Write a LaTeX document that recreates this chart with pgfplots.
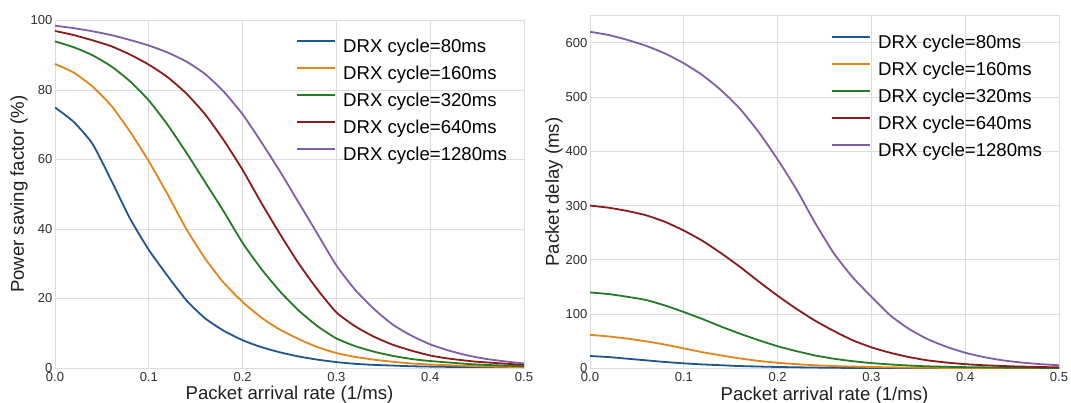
\documentclass[border=0pt]{standalone}
\usepackage{fontspec}
\setmainfont{Liberation Sans}
\usepackage{pgfplots}
\pgfplotsset{compat=1.18}
\definecolor{cblue}{HTML}{1F568C}
\definecolor{corange}{HTML}{E0861A}
\definecolor{cgreen}{HTML}{237B23}
\definecolor{cred}{HTML}{8B1A1A}
\definecolor{cpurple}{HTML}{7E5FA8}
\definecolor{gridc}{HTML}{DCDCDC}
\pgfplotsset{
  myaxis/.style={
    scale only axis,
    xmin=0, xmax=0.5,
    xtick={0,0.1,0.2,0.3,0.4,0.5},
    xticklabels={0.0,0.1,0.2,0.3,0.4,0.5},
    ymin=0,
    grid=major,
    grid style={gridc, line width=0.8bp},
    axis line style={gridc, line width=0.8bp},
    major tick length=0pt,
    tick label style={font=\fontsize{13bp}{15bp}\selectfont, text=black!82},
    /pgf/number format/assume math mode=true,
    xticklabel style={anchor=base, yshift=-13bp},
    yticklabel style={anchor=east, inner sep=0pt, xshift=-2.5bp},
    every axis x label/.style={at={(axis description cs:0.5,0)}, anchor=base, yshift=-31.5bp,
      font=\fontsize{18.6bp}{22bp}\selectfont, text=black!88},
    every axis y label/.style={at={([xshift=-36bp]axis description cs:0,0.5)}, rotate=90, anchor=center,
      font=\fontsize{18.6bp}{22bp}\selectfont, text=black!88},
    legend style={draw=none, fill=none, at={(1,1)}, anchor=north east, xshift=-10bp, yshift=-18.5bp,
      font=\fontsize{18.6bp}{22bp}\selectfont, inner sep=0pt, outer sep=0pt,
      nodes={inner xsep=7bp, inner ysep=0pt, text height=13.3bp, text depth=4bp},
      row sep=9.7bp, cells={anchor=west}},
    legend image code/.code={\draw[#1, line width=2bp] (-14bp,6.6bp) -- (24bp,6.6bp);},
    every axis plot/.append style={line width=1.8bp, smooth, tension=0.35},
  }
}
\begin{document}
\begin{tikzpicture}
\useasboundingbox (0,0) rectangle (1071bp,403bp);
\begin{axis}[myaxis,
  at={(55bp,35bp)}, anchor=south west,
  width=469bp, height=347.5bp,
  ymax=100, ytick={0,20,40,60,80,100},
  xlabel={Packet arrival rate (1/ms)},
  ylabel={Power saving factor (\%)},
]
\addplot[cblue] coordinates {(0,75)(0.02,70.8)(0.04,64.5)(0.06,54)(0.08,43)(0.1,34)(0.12,26.5)(0.14,19.5)(0.16,14.3)(0.18,10.7)(0.2,8)(0.22,6)(0.24,4.5)(0.26,3.3)(0.28,2.4)(0.3,1.7)(0.32,1.2)(0.34,0.9)(0.36,0.7)(0.38,0.5)(0.4,0.4)(0.45,0.2)(0.5,0.1)};
\addlegendentry{DRX cycle=80ms}
\addplot[corange] coordinates {(0,87.5)(0.02,85)(0.04,81)(0.06,75.5)(0.08,68)(0.1,59.5)(0.12,50)(0.14,40)(0.16,31.5)(0.18,24.5)(0.2,19)(0.22,14.5)(0.24,11)(0.26,8.3)(0.28,6)(0.3,4.3)(0.32,3.2)(0.34,2.4)(0.36,1.8)(0.38,1.3)(0.4,1)(0.45,0.5)(0.5,0.25)};
\addlegendentry{DRX cycle=160ms}
\addplot[cgreen] coordinates {(0,94)(0.02,92.3)(0.04,90)(0.06,86.8)(0.08,82.5)(0.1,77)(0.12,70)(0.14,62)(0.16,53.5)(0.18,45)(0.2,36)(0.22,28.5)(0.24,22)(0.26,16.5)(0.28,12)(0.3,8.5)(0.32,6.3)(0.34,4.7)(0.36,3.5)(0.38,2.6)(0.4,2)(0.45,1)(0.5,0.5)};
\addlegendentry{DRX cycle=320ms}
\addplot[cred] coordinates {(0,97)(0.02,95.8)(0.04,94.3)(0.06,92.6)(0.08,90.2)(0.1,87.3)(0.12,83.7)(0.14,79)(0.16,73)(0.18,65.5)(0.2,57)(0.22,47.5)(0.24,38.5)(0.26,30)(0.28,22.5)(0.3,16)(0.32,12)(0.34,9)(0.36,6.7)(0.38,5)(0.4,3.6)(0.42,2.7)(0.45,1.8)(0.5,0.9)};
\addlegendentry{DRX cycle=640ms}
\addplot[cpurple] coordinates {(0,98.5)(0.02,97.8)(0.04,96.9)(0.06,95.8)(0.08,94.4)(0.1,92.8)(0.12,90.8)(0.14,88.2)(0.16,84.6)(0.18,79.5)(0.2,73)(0.22,65)(0.24,56.5)(0.26,47.5)(0.28,38.5)(0.3,29.5)(0.32,22.5)(0.34,17)(0.36,12.5)(0.38,9.3)(0.4,6.8)(0.42,5)(0.44,3.6)(0.46,2.6)(0.48,1.9)(0.5,1.3)};
\addlegendentry{DRX cycle=1280ms}
\end{axis}
\begin{axis}[myaxis,
  at={(590bp,34.5bp)}, anchor=south west,
  width=469bp, height=353bp,
  ymax=650, ytick={0,100,200,300,400,500,600},
  xlabel={Packet arrival rate (1/ms)},
  ylabel={Packet delay (ms)},
  legend style={yshift=-1bp},
]
\addplot[cblue] coordinates {(0,23)(0.02,21)(0.04,18)(0.06,15)(0.08,12)(0.1,9.5)(0.12,7.5)(0.14,6)(0.16,4.5)(0.2,2.8)(0.25,1.5)(0.3,0.8)(0.4,0.3)(0.5,0.1)};
\addlegendentry{DRX cycle=80ms}
\addplot[corange] coordinates {(0,62)(0.02,59)(0.04,55)(0.06,50)(0.08,44)(0.1,37)(0.12,30)(0.14,24)(0.16,18.5)(0.18,14)(0.2,10.5)(0.22,8)(0.24,6)(0.26,4.5)(0.3,2.8)(0.35,1.5)(0.4,0.9)(0.5,0.3)};
\addlegendentry{DRX cycle=160ms}
\addplot[cgreen] coordinates {(0,140)(0.02,137)(0.04,132)(0.06,126)(0.08,116)(0.1,104)(0.12,91)(0.14,77)(0.16,64)(0.18,52)(0.2,41)(0.22,32)(0.24,24)(0.26,18)(0.28,13.5)(0.3,10)(0.32,7.5)(0.34,5.5)(0.36,4)(0.4,2.5)(0.45,1.5)(0.5,1)};
\addlegendentry{DRX cycle=320ms}
\addplot[cred] coordinates {(0,300)(0.02,296)(0.04,290)(0.06,282)(0.08,270)(0.1,254)(0.12,235)(0.14,212)(0.16,187)(0.18,160)(0.2,134)(0.22,110)(0.24,88)(0.26,69)(0.28,52)(0.3,39)(0.32,29)(0.34,21)(0.36,15)(0.38,11)(0.4,8)(0.42,6)(0.45,4)(0.5,2)};
\addlegendentry{DRX cycle=640ms}
\addplot[cpurple] coordinates {(0,620)(0.02,614)(0.04,605)(0.06,594)(0.08,580)(0.1,562)(0.12,540)(0.14,512)(0.16,478)(0.18,435)(0.2,385)(0.22,330)(0.24,268)(0.26,212)(0.28,168)(0.3,132)(0.32,98)(0.34,73)(0.36,54)(0.38,40)(0.4,29)(0.42,21)(0.44,15)(0.46,11)(0.48,8)(0.5,6)};
\addlegendentry{DRX cycle=1280ms}
\end{axis}
\end{tikzpicture}
\end{document}
